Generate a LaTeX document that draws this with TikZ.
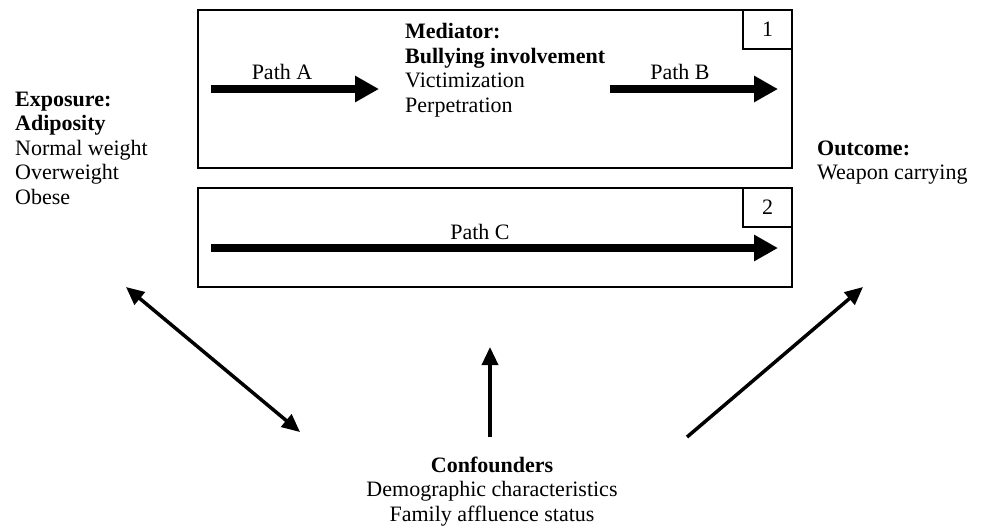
\documentclass[tikz,border=0pt]{standalone}
\usepackage{fontspec}
\setmainfont{Liberation Serif}
\usetikzlibrary{positioning}
\usetikzlibrary{arrows.meta}

\begin{document}
\begin{tikzpicture}[
  x=1pt, y=-1pt,
  font=\fontsize{22}{24.5}\selectfont,
  panel/.style={draw, line width=1.5pt, minimum width=594pt, inner sep=0pt},
  numbox/.style={draw, line width=1.5pt, minimum width=49pt, minimum height=39pt, inner sep=0pt, anchor=north east},
  txt/.style={align=left, inner sep=0pt, anchor=base west},
  pathtxt/.style={inner sep=0pt, anchor=base},
  patharrow/.style={-{Triangle[length=24pt, width=25pt]}, line width=8pt},
  arrow/.style={-{Triangle[length=18pt, width=16pt]}, line width=3.5pt},
  dblarrow/.style={{Triangle[length=18pt, width=16pt]}-{Triangle[length=18pt, width=16pt]}, line width=3.5pt}
]
\useasboundingbox (0,0) rectangle (981,528);

% Panels: indirect (1) and direct (2) effect
\node[panel, minimum height=158pt] (panelA) at (495,89) {};
\node[numbox] (numA) at (panelA.north east) {1};
\node[panel, minimum height=99pt] (panelB) at (495,237.5) {};
\node[numbox] (numB) at (panelB.north east) {2};

% Exposure, mediator, outcome (anchored on the last line)
\node[txt] (expo) at (15,204) {\textbf{Exposure:}\\\textbf{Adiposity}\\Normal weight\\Overweight\\Obese};
\node[txt] (medi) at (405,112) {\textbf{Mediator:}\\\textbf{Bullying involvement}\\Victimization\\Perpetration};
\node[txt] (outc) at (817,179.5) {\textbf{Outcome:}\\Weapon carrying};

% Confounders
\node[align=center, inner sep=0pt, anchor=base] (conf) at (492,521) {\textbf{Confounders}\\Demographic characteristics\\Family affluence status};

% Path arrows inside the panels
\coordinate (pathA0) at (211,89);
\coordinate (pathA1) at (379,89);
\coordinate (pathB0) at (610,89);
\coordinate (pathB1) at (778,89);
\coordinate (pathC0) at (211,248);
\coordinate (pathC1) at (778,248);

\draw[patharrow] (pathA0) -- (pathA1);
\draw[patharrow] (pathB0) -- (pathB1);
\draw[patharrow] (pathC0) -- (pathC1);

\node[pathtxt] (labA) at (282,79) {Path A};
\node[pathtxt] (labB) at (680,79) {Path B};
\node[pathtxt] (labC) at (480,239) {Path C};

% Confounder arrows
\coordinate (confL) at (300,432);
\coordinate (expoE) at (126,287);
\coordinate (confM) at (490,437);
\coordinate (mediE) at (490,347);
\coordinate (confR) at (687,437);
\coordinate (outcE) at (863,287);

\draw[dblarrow] (expoE) -- (confL);
\draw[arrow] (confM) -- (mediE);
\draw[arrow] (confR) -- (outcE);

\end{tikzpicture}
\end{document}
